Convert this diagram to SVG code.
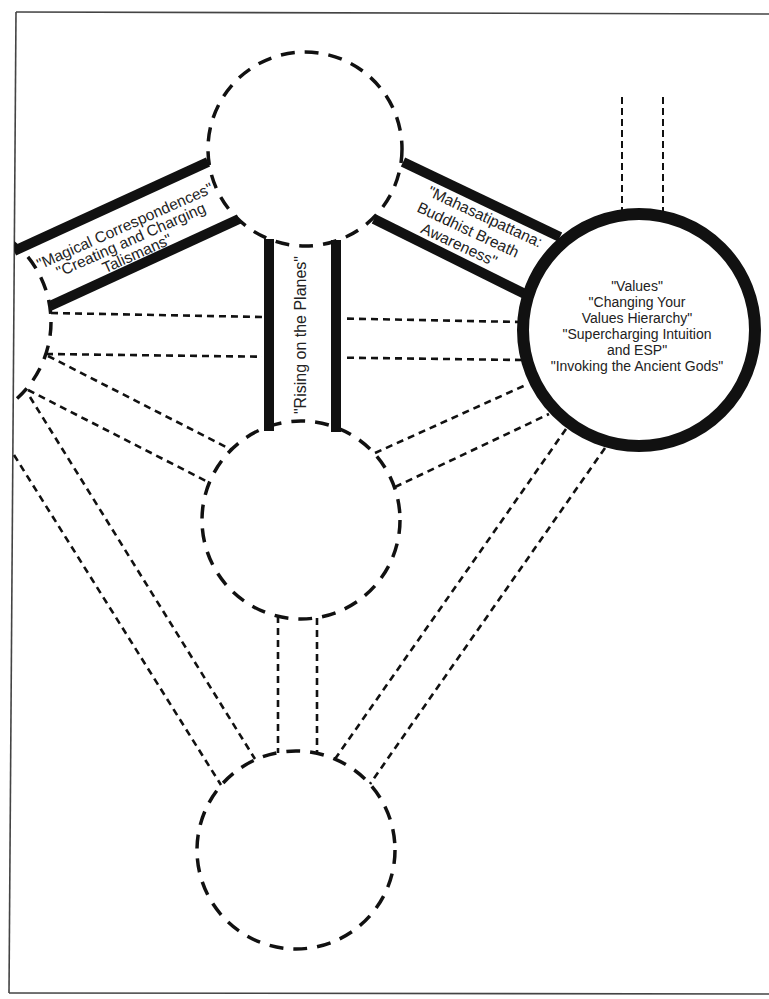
<svg xmlns="http://www.w3.org/2000/svg" width="769" height="999" viewBox="0 0 769 999">
<style>
.frame{stroke:#444;stroke-width:1.6;fill:none}
.node{fill:none;stroke:#111;stroke-width:3.5;stroke-dasharray:14 10}
.big{fill:#fff;stroke:#111;stroke-width:12}
.dash{stroke:#111;stroke-width:2.6;stroke-dasharray:7 5;fill:none}
.thin{stroke:#111;stroke-width:2;stroke-dasharray:7 4;fill:none}
.thick{stroke:#111;stroke-width:10;fill:none}
.lbl{font-family:"Liberation Sans",Arial,sans-serif;font-size:15.5px;fill:#222;text-anchor:middle}
.vt{font-size:14px}
</style>
<defs>
<clipPath id="clip"><polygon points="16,12 769,14 769,993 9,993"/></clipPath>
</defs>
<rect x="0" y="0" width="769" height="999" fill="#fff"/>
<g id="frame">
<line class="frame" x1="16" y1="12" x2="769" y2="14"/>
<line class="frame" x1="16" y1="12" x2="9" y2="993"/>
<line class="frame" x1="9" y1="993" x2="769" y2="994"/>
</g>
<g clip-path="url(#clip)">
<g id="connectors">
<line class="dash" x1="51" y1="313" x2="262" y2="317"/>
<line class="dash" x1="347" y1="318.6" x2="520" y2="322"/>
<line class="dash" x1="46" y1="354" x2="262" y2="356.7"/>
<line class="dash" x1="347" y1="357.7" x2="522" y2="360"/>
<line class="dash" x1="48" y1="356" x2="232" y2="450"/>
<line class="dash" x1="28" y1="390" x2="208" y2="482"/>
<line class="dash" x1="30" y1="397" x2="255" y2="759"/>
<line class="dash" x1="14" y1="455" x2="221" y2="785"/>
<line class="dash" x1="375" y1="453" x2="528" y2="384"/>
<line class="dash" x1="395" y1="487" x2="549" y2="414"/>
<line class="dash" x1="566" y1="429" x2="335" y2="759"/>
<line class="dash" x1="605" y1="448" x2="370" y2="784"/>
<line class="dash" x1="278" y1="616" x2="278" y2="753"/>
<line class="dash" x1="317" y1="618" x2="317" y2="753"/>
<line class="thin" x1="622" y1="97" x2="622" y2="216"/>
<line class="thin" x1="663" y1="97" x2="663" y2="216"/>
<g id="band-magical">
<line class="thick" x1="14" y1="251" x2="208" y2="162"/>
<line class="thick" x1="50" y1="306" x2="239" y2="219"/>
<text class="lbl" transform="translate(131,240) rotate(-24)"><tspan x="0" y="-10">"Magical Correspondences"</tspan><tspan x="0" y="5">"Creating and Charging</tspan><tspan x="0" y="20">Talismans"</tspan></text>
</g>
<g id="band-mahasatipattana">
<line class="thick" x1="403" y1="162" x2="560" y2="237"/>
<line class="thick" x1="374" y1="219" x2="524" y2="293.5"/>
<text class="lbl" transform="translate(485,217) rotate(25)" y="5">"Mahasatipattana:</text>
<text class="lbl" transform="translate(468,230) rotate(25)" y="5">Buddhist Breath</text>
<text class="lbl" transform="translate(459,245) rotate(25)" y="5">Awareness"</text>
</g>
<g id="band-rising">
<line class="thick" x1="269" y1="239" x2="269" y2="431"/>
<line class="thick" x1="336" y1="240" x2="336" y2="432"/>
<text class="lbl" transform="translate(301,335) rotate(-90)" y="5" style="font-size:16px">"Rising on the Planes"</text>
</g>
</g>
<g id="node-left"><circle class="node" cx="-52" cy="322" r="103"/></g>
<g id="node-top"><circle class="node" cx="305" cy="149" r="97"/></g>
<g id="node-middle"><circle class="node" cx="301" cy="520" r="99"/></g>
<g id="node-bottom"><circle class="node" cx="296" cy="850" r="99"/></g>
<g id="node-values">
<circle class="big" cx="639" cy="330" r="116"/>
<text class="lbl vt" x="637" y="291">"Values"</text>
<text class="lbl vt" x="637" y="307">"Changing Your</text>
<text class="lbl vt" x="637" y="323">Values Hierarchy"</text>
<text class="lbl vt" x="637" y="339">"Supercharging Intuition</text>
<text class="lbl vt" x="637" y="355">and ESP"</text>
<text class="lbl vt" x="637" y="371">"Invoking the Ancient Gods"</text>
</g>
</g>
</svg>
